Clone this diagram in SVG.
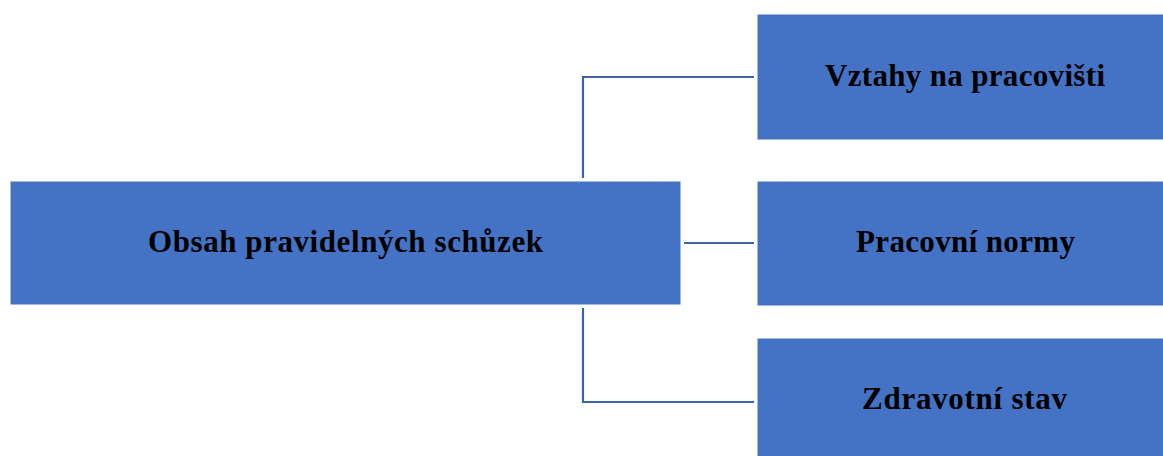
<svg xmlns="http://www.w3.org/2000/svg" width="1163" height="456" viewBox="0 0 1163 456">
<style>
.box{fill:#4472C4;stroke:#ffffff;stroke-width:1}
.lbl{font-family:"Liberation Serif","Times New Roman",serif;font-weight:bold;font-size:31px;fill:#000;text-anchor:middle}
.con{fill:none;stroke:#3E64A8;stroke-width:2.2}
</style>
<rect width="1163" height="456" fill="#ffffff"/>
<g id="connectors">
<polyline class="con" points="583,178 583,77 754,77"/>
<line class="con" x1="684" y1="243" x2="754" y2="243"/>
<polyline class="con" points="583,308 583,402 754,402"/>
</g>
<g id="node-main">
<rect class="box" x="10" y="181" width="671" height="124"/>
<text class="lbl" x="345.5" y="252" textLength="395" lengthAdjust="spacing">Obsah pravidelných schůzek</text>
</g>
<g id="node-vztahy">
<rect class="box" x="757" y="14" width="420" height="126"/>
<text class="lbl" x="965" y="86" textLength="280" lengthAdjust="spacing">Vztahy na pracovišti</text>
</g>
<g id="node-normy">
<rect class="box" x="757" y="181" width="420" height="125"/>
<text class="lbl" x="965.5" y="252" textLength="219" lengthAdjust="spacing">Pracovní normy</text>
</g>
<g id="node-zdravi">
<rect class="box" x="757" y="338" width="420" height="130"/>
<text class="lbl" x="964.5" y="409" textLength="205" lengthAdjust="spacing">Zdravotní stav</text>
</g>
</svg>
